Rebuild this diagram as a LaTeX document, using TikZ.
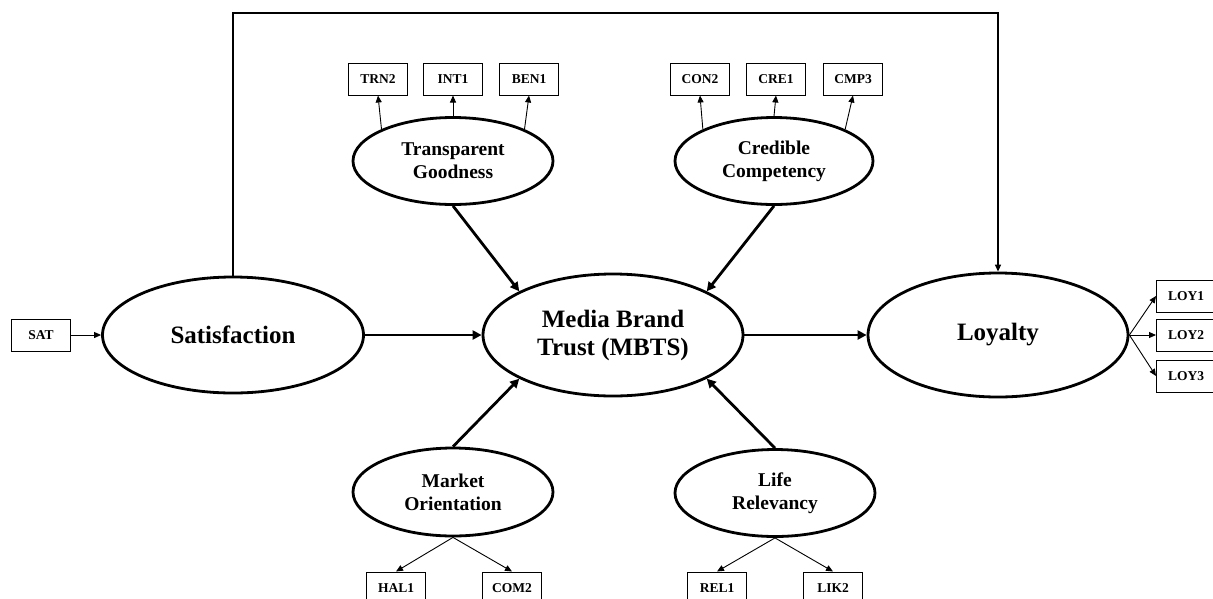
\documentclass[tikz,border=0pt]{standalone}
\usepackage{fontspec}
\setmainfont{Liberation Serif}
\usetikzlibrary{arrows.meta,shapes.geometric}
\begin{document}
\begin{tikzpicture}[x=1pt,y=-1pt,
  bigell/.style={draw,ellipse,line width=2.8pt,inner sep=0pt,align=center,font=\fontsize{25}{28}\selectfont\bfseries},
  midell/.style={draw,ellipse,line width=2.8pt,inner sep=0pt,align=center,font=\fontsize{19.5}{23}\selectfont\bfseries},
  ind/.style={draw,line width=1pt,minimum width=59pt,minimum height=32pt,inner sep=0pt,font=\fontsize{13.5}{15}\selectfont\bfseries},
  thick arrow/.style={line width=2.8pt,-{Triangle[length=9pt,width=9pt]}},
  thin arrow/.style={line width=0.9pt,-{Triangle[length=7pt,width=6pt]}}
]
\useasboundingbox (0,0) rectangle (1213,598);
% latent variables
\node[bigell,minimum width=261pt,minimum height=116pt] (Sat) at (233,335) {Satisfaction};
\node[bigell,minimum width=260pt,minimum height=122pt] (MBTS) at (613,335) {Media Brand\\Trust (MBTS)};
\node[bigell,minimum width=260pt,minimum height=124pt] (Loy) at (998,335) {Loyalty};
\node[midell,minimum width=200pt,minimum height=87pt] (TG) at (453,161) {Transparent\\Goodness};
\node[midell,minimum width=198pt,minimum height=87pt] (CC) at (774,161) {Credible\\Competency};
\node[midell,minimum width=200pt,minimum height=88pt] (MO) at (453,492) {Market\\Orientation};
\node[midell,minimum width=200pt,minimum height=87pt] (LR) at (775,493) {Life\\Relevancy};
% indicators
\node[ind] (SAT) at (41,335) {SAT};
\node[ind] (TRN2) at (378,79) {TRN2};
\node[ind] (INT1) at (453,79) {INT1};
\node[ind] (BEN1) at (529,79) {BEN1};
\node[ind] (CON2) at (700,79) {CON2};
\node[ind] (CRE1) at (776,79) {CRE1};
\node[ind] (CMP3) at (853,79) {CMP3};
\node[ind] (HAL1) at (396,588) {HAL1};
\node[ind] (COM2) at (512,588) {COM2};
\node[ind] (REL1) at (717,588) {REL1};
\node[ind] (LIK2) at (833,588) {LIK2};
\node[ind] (LOY1) at (1186,296) {LOY1};
\node[ind] (LOY2) at (1186,335) {LOY2};
\node[ind] (LOY3) at (1186,376) {LOY3};
% measurement arrows
\draw[thin arrow] (SAT.east) -- (Sat.west);
\draw[thin arrow] (TG.156) -- (TRN2.south);
\draw[thin arrow] (TG.north) -- (INT1.south);
\draw[thin arrow] (TG.24) -- (BEN1.south);
\draw[thin arrow] (CC.156) -- (CON2.south);
\draw[thin arrow] (CC.north) -- (CRE1.south);
\draw[thin arrow] (CC.24) -- (CMP3.south);
\draw[thin arrow] (MO.south) -- (HAL1.north);
\draw[thin arrow] (MO.south) -- (COM2.north);
\draw[thin arrow] (LR.south) -- (REL1.north);
\draw[thin arrow] (LR.south) -- (LIK2.north);
\draw[thin arrow] (Loy.east) -- (LOY1.west);
\draw[thin arrow] (Loy.east) -- (LOY2.west);
\draw[thin arrow] (Loy.east) -- (LOY3.west);
% structural paths
\draw[thick arrow] (Sat.east) -- (MBTS.west);
\draw[thick arrow] (MBTS.east) -- (Loy.west);
\draw[thick arrow] (TG.south) -- (MBTS.155);
\draw[thick arrow] (CC.south) -- (MBTS.25);
\draw[thick arrow] (MO.north) -- (MBTS.-155);
\draw[thick arrow] (LR.north) -- (MBTS.-25);
\coordinate (top) at (600,13);
\draw[line width=1.4pt,-{Triangle[length=7pt,width=6pt]}] (Sat.north) |- (top) -| (Loy.north);
\end{tikzpicture}
\end{document}
